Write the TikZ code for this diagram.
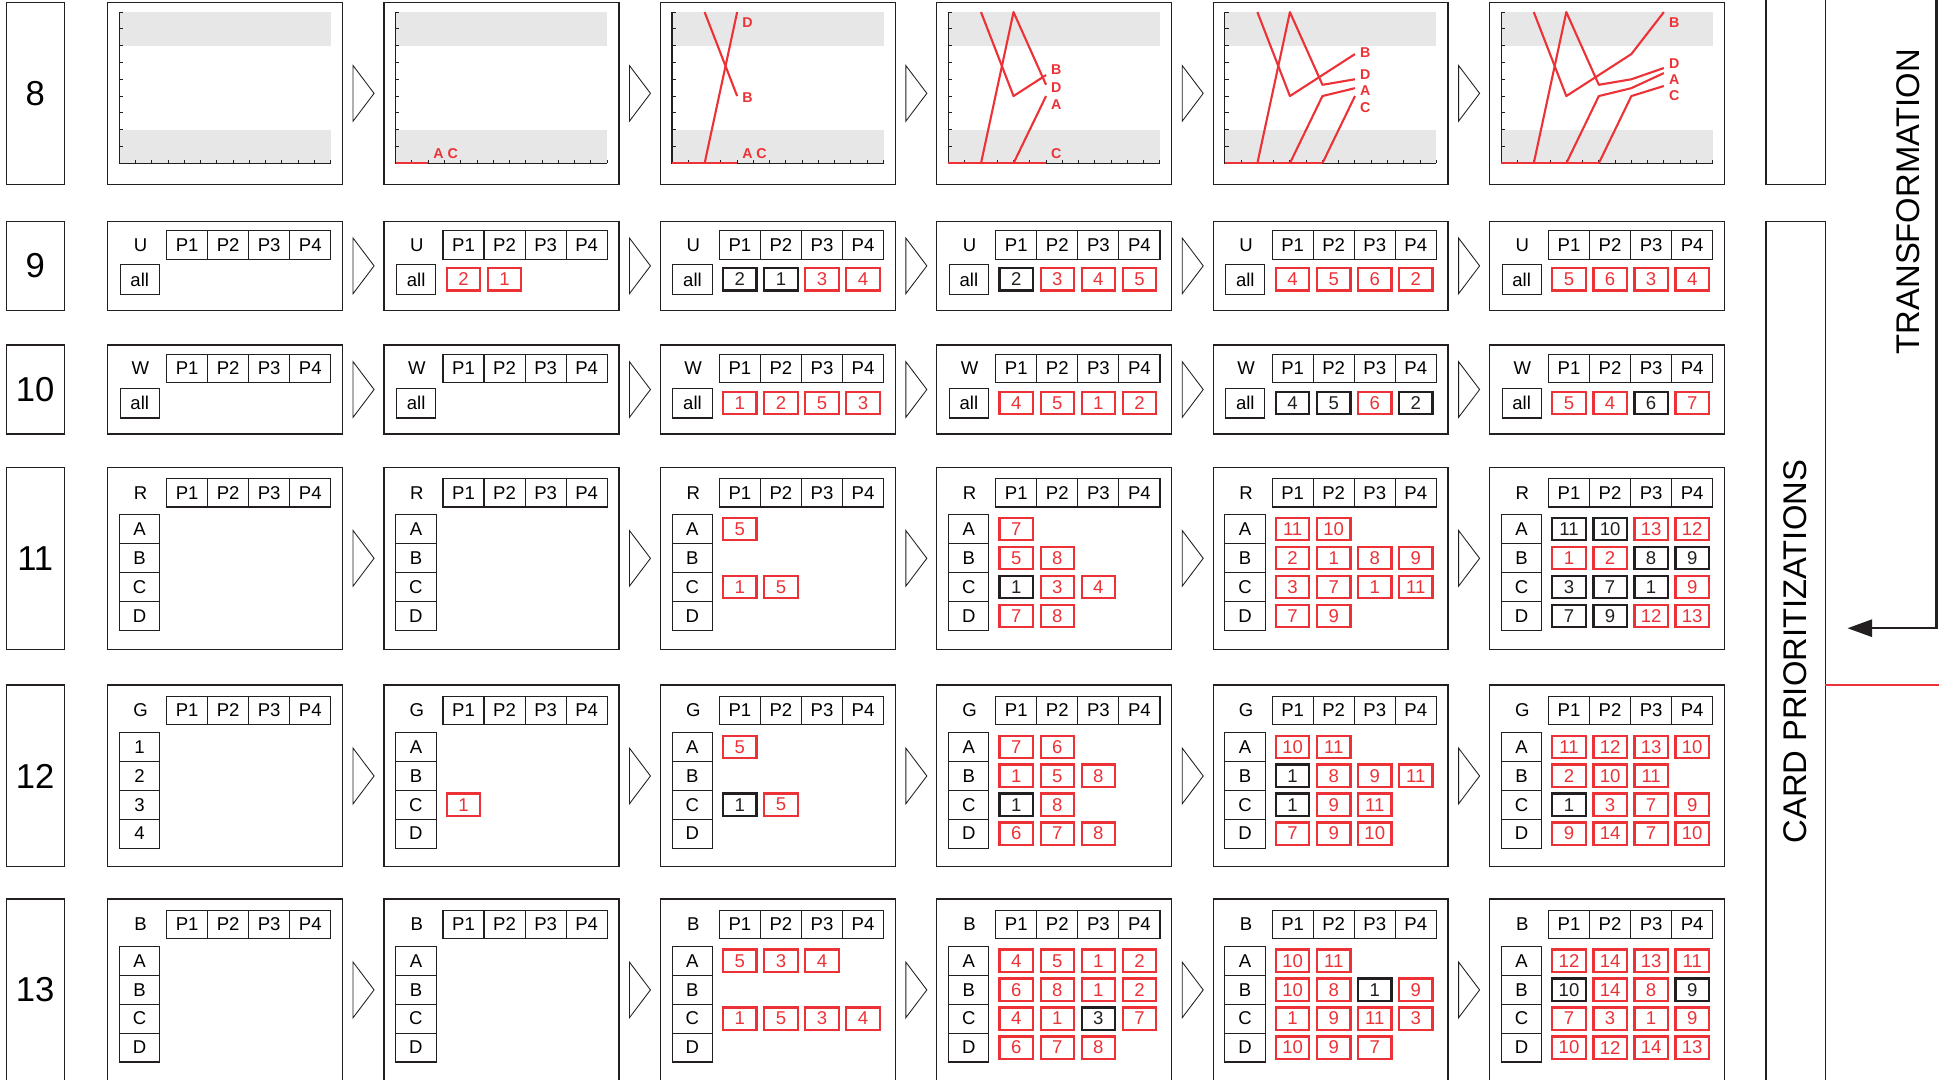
\documentclass[tikz,border=0pt]{standalone}
\usepackage{fontspec}
\setmainfont{Liberation Sans}
\usetikzlibrary{arrows.meta}

\definecolor{hot}{RGB}{237,50,55}
\definecolor{ink}{RGB}{35,31,32}
\definecolor{band}{RGB}{231,231,231}

\tikzset{
  frame/.style={draw=ink,line width=1pt},
  hcell/.style={draw=ink,line width=0.9pt,minimum width=33.2pt,minimum height=23pt,inner sep=0pt},
  vcell/.style={draw=#1,text=#1,line width=1.8pt,minimum width=27pt,minimum height=18pt,inner sep=0pt},
  chevron/.style={draw=ink,line width=0.7pt},
  chart/.style={shift={(#1+9.5,132)},x=13.15pt,y=13.58pt},
  trace/.style={draw=hot,line width=1.7pt,line join=round},
  glabel/.style={text=hot,anchor=west,inner sep=0pt,font=\fontsize{11.5}{12}\bfseries\selectfont},
}

% empty chart of one state (row 8)
\newcommand{\plotframe}[1]{%
  \draw[frame] (#1,2) rectangle ++(190,147);
  \begin{scope}[chart=#1]
    \fill[band] (0,0) rectangle (13,2);
    \fill[band] (0,7) rectangle (13,9);
    \draw[ink,line width=1pt] (0,9) -- (0,0) -- (13,0);
    \foreach \t in {1,...,9} \draw[ink,line width=0.8pt] (0,\t) -- ++(3pt,0pt);
    \foreach \t in {1,...,13} \draw[ink,line width=0.8pt] (\t,0) -- ++(0pt,3pt);
  \end{scope}}

% state with a single "all" line: left, top, letter, name
\newcommand{\allbox}[4]{%
  \draw[frame] (#1,#2) rectangle ++(190,72);
  \node (#4k) at (#1+26.6,#2+19) {#3};
  \foreach \p in {1,...,4}
    \node[hcell] (#4h\p) at (#1+31.1+33.2*\p,#2+19) {P\p};
  \node[hcell,minimum width=31.7pt,minimum height=24pt] (#4a) at (#1+26,#2+47) {all};}
\newcommand{\allvals}[4]{%
  \foreach \j/\vv/\cc in {#4}
    \node[vcell=\cc] (#3v\j) at (#1+31.1+33.2*\j,#2+47) {\vv};}

% state with four lines: left, top, letter, line labels, name
\newcommand{\gridbox}[5]{%
  \draw[frame] (#1,#2) rectangle ++(190,147);
  \node (#5k) at (#1+26.6,#2+20.5) {#3};
  \foreach \p in {1,...,4}
    \node[hcell] (#5h\p) at (#1+31.1+33.2*\p,#2+20.5) {P\p};
  \foreach \lab [count=\i] in {#4}
    \node[hcell,minimum width=32.7pt,minimum height=23.4pt] (#5r\i) at (#1+25.85,#2+26.5+23.4*\i) {\lab};}
\newcommand{\gridvals}[4]{%
  \foreach \i/\j/\vv/\cc in {#4}
    \node[vcell=\cc] (#3v\i\j) at (#1+31.1+33.2*\j,#2+26.5+23.4*\i) {\vv};}

\begin{document}
\begin{tikzpicture}[x=1pt,y=-1pt,font=\fontsize{15}{17}\selectfont]
\useasboundingbox (0,0) rectangle (1568,873);
\fill[white] (0,0) rectangle (1568,873);
\clip (0,0) rectangle (1568,873);

% step numbers and chevrons
\foreach \n/\t/\h in {8/2/147,9/179/72,10/279/72,11/378/147,12/554/147,13/727/147}{
  \draw[frame] (5,\t) rectangle (52,\t+\h);
  \node[font=\fontsize{28}{30}\selectfont] (step\n) at (28.5,\t+\h/2) {\n};
  \foreach \k in {1,...,5}
    \draw[chevron] (87+223.5*\k-25,\t+\h/2-22.5) -- ++(17,22.5) -- ++(-17,22.5) -- cycle;
}

% row 8: charts
\foreach \k in {1,...,6} {\pgfmathsetmacro\xl{87+223.5*(\k-1)} \plotframe{\xl}}
\begin{scope}[chart=310.5]
  \draw[trace] (0,0) -- (2,0);
  \node[glabel] (ac2) at (2.3,0.6) {A C};
\end{scope}
\begin{scope}[chart=534]
  \draw[trace] (0,0) -- (4,0);
  \draw[trace] (2,0) -- (4,9);
  \draw[trace] (2,9) -- (4,4);
  \node[glabel] (d3) at (4.3,8.4) {D};
  \node[glabel] (b3) at (4.3,3.9) {B};
  \node[glabel] (ac3) at (4.3,0.6) {A C};
\end{scope}
\begin{scope}[chart=757.5]
  \draw[trace] (0,0) -- (6,0);
  \draw[trace] (2,0) -- (4,9) -- (6,4.67);
  \draw[trace] (2,9) -- (4,4) -- (6,5.25);
  \draw[trace] (4,0) -- (6,4);
  \node[glabel] (b4) at (6.3,5.6) {B};
  \node[glabel] (d4) at (6.3,4.5) {D};
  \node[glabel] (a4) at (6.3,3.5) {A};
  \node[glabel] (c4) at (6.3,0.6) {C};
\end{scope}
\begin{scope}[chart=981]
  \draw[trace] (0,0) -- (6,0);
  \draw[trace] (2,0) -- (4,9) -- (6,4.67) -- (8,5);
  \draw[trace] (2,9) -- (4,4) -- (8,6.5);
  \draw[trace] (4,0) -- (6,4) -- (8,4.47);
  \draw[trace] (6,0) -- (8,4);
  \node[glabel] (b5) at (8.3,6.6) {B};
  \node[glabel] (d5) at (8.3,5.3) {D};
  \node[glabel] (a5) at (8.3,4.3) {A};
  \node[glabel] (c5) at (8.3,3.3) {C};
\end{scope}
\begin{scope}[chart=1204.5]
  \draw[trace] (0,0) -- (6,0);
  \draw[trace] (2,0) -- (4,9) -- (6,4.67) -- (8,5) -- (10,5.67);
  \draw[trace] (2,9) -- (4,4) -- (8,6.5) -- (10,9);
  \draw[trace] (4,0) -- (6,4) -- (8,4.47) -- (10,5.37);
  \draw[trace] (6,0) -- (8,4) -- (10,4.6);
  \node[glabel] (b6) at (10.3,8.4) {B};
  \node[glabel] (d6) at (10.3,5.95) {D};
  \node[glabel] (a6) at (10.3,5.0) {A};
  \node[glabel] (c6) at (10.3,4.05) {C};
\end{scope}

% row 9: U
\foreach \k in {1,...,6} {\pgfmathsetmacro\xl{87+223.5*(\k-1)} \allbox{\xl}{179}{U}{u\k}}
\allvals{310.5}{179}{u2}{1/2/hot,2/1/hot}
\allvals{534}{179}{u3}{1/2/ink,2/1/ink,3/3/hot,4/4/hot}
\allvals{757.5}{179}{u4}{1/2/ink,2/3/hot,3/4/hot,4/5/hot}
\allvals{981}{179}{u5}{1/4/hot,2/5/hot,3/6/hot,4/2/hot}
\allvals{1204.5}{179}{u6}{1/5/hot,2/6/hot,3/3/hot,4/4/hot}

% row 10: W
\foreach \k in {1,...,6} {\pgfmathsetmacro\xl{87+223.5*(\k-1)} \allbox{\xl}{279}{W}{w\k}}
\allvals{534}{279}{w3}{1/1/hot,2/2/hot,3/5/hot,4/3/hot}
\allvals{757.5}{279}{w4}{1/4/hot,2/5/hot,3/1/hot,4/2/hot}
\allvals{981}{279}{w5}{1/4/ink,2/5/ink,3/6/hot,4/2/ink}
\allvals{1204.5}{279}{w6}{1/5/hot,2/4/hot,3/6/ink,4/7/hot}

% row 11: R
\foreach \k in {1,...,6} {\pgfmathsetmacro\xl{87+223.5*(\k-1)} \gridbox{\xl}{378}{R}{A,B,C,D}{r\k}}
\gridvals{534}{378}{r3}{1/1/5/hot,3/1/1/hot,3/2/5/hot}
\gridvals{757.5}{378}{r4}{1/1/7/hot,2/1/5/hot,2/2/8/hot,3/1/1/ink,3/2/3/hot,3/3/4/hot,4/1/7/hot,4/2/8/hot}
\gridvals{981}{378}{r5}{1/1/11/hot,1/2/10/hot,2/1/2/hot,2/2/1/hot,2/3/8/hot,2/4/9/hot,
  3/1/3/hot,3/2/7/hot,3/3/1/hot,3/4/11/hot,4/1/7/hot,4/2/9/hot}
\gridvals{1204.5}{378}{r6}{1/1/11/ink,1/2/10/ink,1/3/13/hot,1/4/12/hot,2/1/1/hot,2/2/2/hot,2/3/8/ink,2/4/9/ink,
  3/1/3/ink,3/2/7/ink,3/3/1/ink,3/4/9/hot,4/1/7/ink,4/2/9/ink,4/3/12/hot,4/4/13/hot}

% row 12: G
\gridbox{87}{554}{G}{1,2,3,4}{g1}
\foreach \k in {2,...,6} {\pgfmathsetmacro\xl{87+223.5*(\k-1)} \gridbox{\xl}{554}{G}{A,B,C,D}{g\k}}
\gridvals{310.5}{554}{g2}{3/1/1/hot}
\gridvals{534}{554}{g3}{1/1/5/hot,3/1/1/ink,3/2/5/hot}
\gridvals{757.5}{554}{g4}{1/1/7/hot,1/2/6/hot,2/1/1/hot,2/2/5/hot,2/3/8/hot,3/1/1/ink,3/2/8/hot,4/1/6/hot,4/2/7/hot,4/3/8/hot}
\gridvals{981}{554}{g5}{1/1/10/hot,1/2/11/hot,2/1/1/ink,2/2/8/hot,2/3/9/hot,2/4/11/hot,
  3/1/1/ink,3/2/9/hot,3/3/11/hot,4/1/7/hot,4/2/9/hot,4/3/10/hot}
\gridvals{1204.5}{554}{g6}{1/1/11/hot,1/2/12/hot,1/3/13/hot,1/4/10/hot,2/1/2/hot,2/2/10/hot,2/3/11/hot,
  3/1/1/ink,3/2/3/hot,3/3/7/hot,3/4/9/hot,4/1/9/hot,4/2/14/hot,4/3/7/hot,4/4/10/hot}

% row 13: B
\foreach \k in {1,...,6} {\pgfmathsetmacro\xl{87+223.5*(\k-1)} \gridbox{\xl}{727}{B}{A,B,C,D}{b\k}}
\gridvals{534}{727}{b3}{1/1/5/hot,1/2/3/hot,1/3/4/hot,3/1/1/hot,3/2/5/hot,3/3/3/hot,3/4/4/hot}
\gridvals{757.5}{727}{b4}{1/1/4/hot,1/2/5/hot,1/3/1/hot,1/4/2/hot,2/1/6/hot,2/2/8/hot,2/3/1/hot,2/4/2/hot,
  3/1/4/hot,3/2/1/hot,3/3/3/ink,3/4/7/hot,4/1/6/hot,4/2/7/hot,4/3/8/hot}
\gridvals{981}{727}{b5}{1/1/10/hot,1/2/11/hot,2/1/10/hot,2/2/8/hot,2/3/1/ink,2/4/9/hot,
  3/1/1/hot,3/2/9/hot,3/3/11/hot,3/4/3/hot,4/1/10/hot,4/2/9/hot,4/3/7/hot}
\gridvals{1204.5}{727}{b6}{1/1/12/hot,1/2/14/hot,1/3/13/hot,1/4/11/hot,2/1/10/ink,2/2/14/hot,2/3/8/hot,2/4/9/ink,
  3/1/7/hot,3/2/3/hot,3/3/1/hot,3/4/9/hot,4/1/10/hot,4/2/12/hot,4/3/14/hot,4/4/13/hot}

% right side
\draw[frame] (1428,-5) rectangle (1476,149);
\draw[frame] (1428,179) rectangle (1476,890);
\node[rotate=90,font=\fontsize{26.5}{28}\selectfont] (cardlab) at (1452,527) {CARD PRIORITIZATIONS};
\node[rotate=90,font=\fontsize{26.5}{28}\selectfont] (translab) at (1543,163) {TRANSFORMATION};
\coordinate (tfstart) at (1566,-5);
\coordinate (tfend) at (1494,508);
\draw[ink,line width=1.8pt,-{Triangle[length=20pt,width=14pt]}] (tfstart) |- (tfend);
\coordinate (redA) at (1476,554);
\coordinate (redB) at (1570,554);
\draw[hot,line width=2.2pt] (redA) -- (redB);
\end{tikzpicture}
\end{document}
